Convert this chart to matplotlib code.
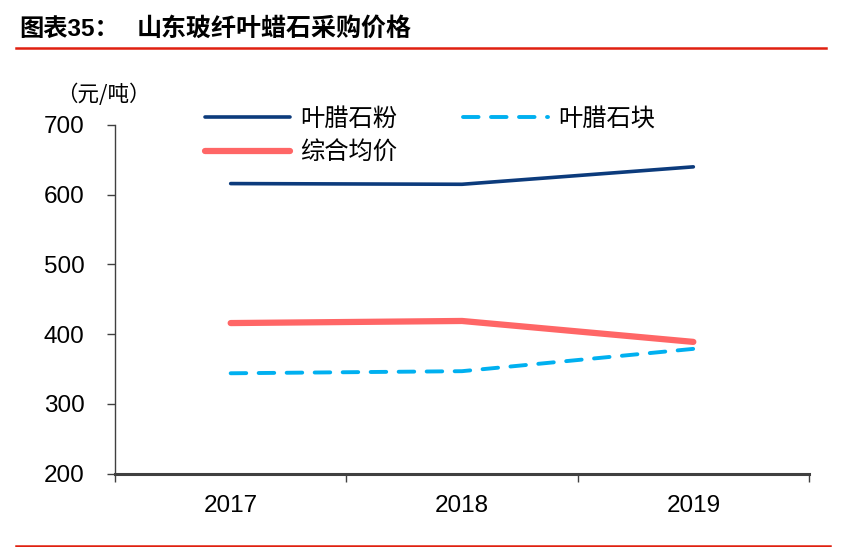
import matplotlib
matplotlib.use("Agg")
from matplotlib import pyplot as plt
from matplotlib.lines import Line2D

plt.rcParams['font.family'] = ['Liberation Sans', 'Noto Sans CJK SC', 'DejaVu Sans']

years = ['2017', '2018', '2019']
powder = [616, 615, 640]
block = [344, 347, 379]
average = [416, 419, 389]

fig = plt.figure(figsize=(8.45, 5.47), dpi=100)
ax = fig.add_axes([115 / 845, 1 - 473.7 / 547, (809 - 115) / 845, (473.7 - 125) / 547])

x = list(range(len(years)))
ax.plot(x, powder, color='#0C3B7C', lw=2.6, solid_capstyle='round', label='叶腊石粉')
ax.plot(x, average, color='#FF6666', lw=4.5, solid_capstyle='round', label='综合均价')
ax.plot(x, block, color='#00B0F0', lw=2.8, linestyle=(0, (4, 3.2)), dash_capstyle='round', label='叶腊石块')

ax.set_xlim(-0.5, 2.5)
ax.set_ylim(200, 700)
ax.set_yticks([200, 300, 400, 500, 600, 700])
ax.set_xticks([-0.5, 0.5, 1.5, 2.5])
ax.set_xticklabels([])
ax.set_xticks(x, minor=True)
ax.set_xticklabels(years, minor=True)
ax.tick_params(axis='x', which='major', direction='out', length=6, width=1, color='#404040')
ax.tick_params(axis='x', which='minor', length=0, pad=15, labelsize=17.5)
ax.tick_params(axis='y', direction='out', length=6, width=1, color='#404040', pad=16, labelsize=17.5)

for side in ['top', 'right']:
    ax.spines[side].set_visible(False)
ax.spines['left'].set_color('#404040')
ax.spines['left'].set_linewidth(1)
ax.spines['bottom'].set_color('#404040')
ax.spines['bottom'].set_linewidth(2.2)

handles, labels = ax.get_legend_handles_labels()
leg = fig.legend(handles, labels, loc='upper left', bbox_to_anchor=(205 / 845, 1 - 106 / 547),
                 ncol=2, frameon=False, handlelength=3.5, handletextpad=0.42, columnspacing=2.7,
                 labelspacing=0.3, borderpad=0, borderaxespad=0,
                 prop={'family': 'Noto Sans CJK SC', 'size': 17.5})

fig.text(56 / 845, 1 - 95 / 547, '（元/吨）', fontsize=15.5, family='Noto Sans CJK SC',
         va='center', ha='left')

fig.text(19 / 845, 1 - 29 / 547, '图表35：', fontsize=17.5, fontweight='bold',
         family=['Liberation Sans', 'Noto Sans CJK SC'], va='center', ha='left')
fig.text(137 / 845, 1 - 29 / 547, '山东玻纤叶蜡石采购价格', fontsize=18, fontweight='bold',
         family='Noto Sans CJK SC', va='center', ha='left')

fig.add_artist(Line2D([16 / 845, 826 / 845], [1 - 47.5 / 547] * 2, color='#E02010', lw=1.8))
fig.add_artist(Line2D([16 / 845, 830 / 845], [1 - 545.5 / 547] * 2, color='#E02010', lw=1.8))

fig.savefig('out.png', dpi=100)
